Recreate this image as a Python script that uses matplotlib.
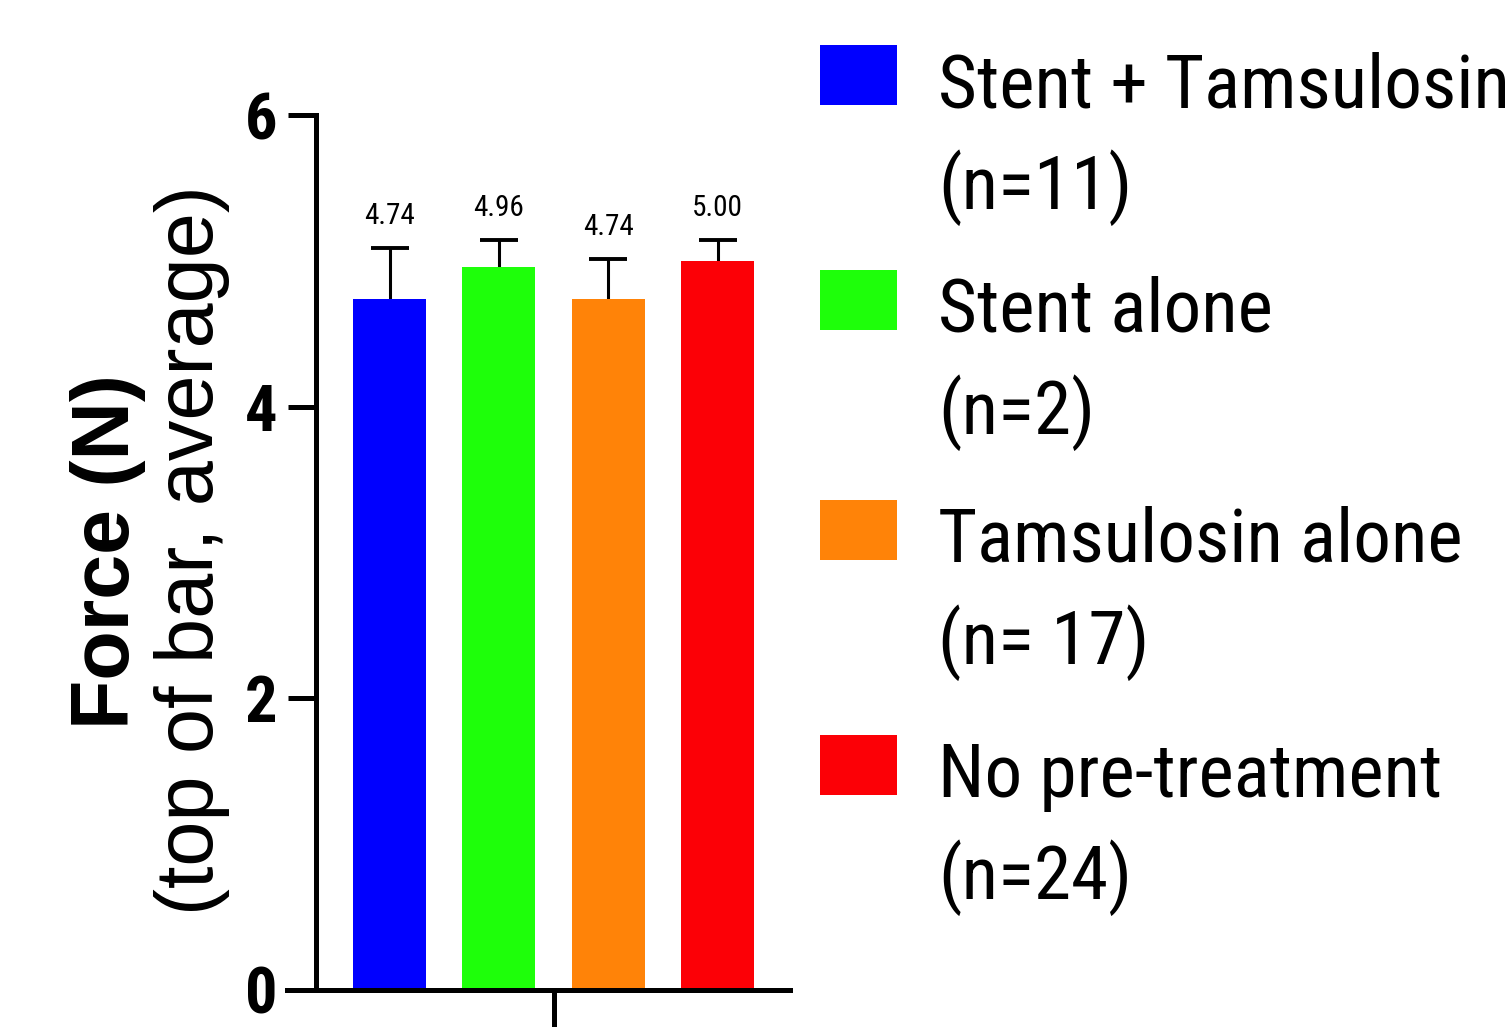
import matplotlib
matplotlib.use("Agg")
import matplotlib.pyplot as plt
from matplotlib import font_manager as fm
from matplotlib.font_manager import FontProperties
from matplotlib.patches import Rectangle

groups = ["Stent + Tamsulosin\n(n=11)", "Stent alone\n(n=2)", "Tamsulosin alone\n(n= 17)", "No pre-treatment\n(n=24)"]
means = [4.74, 4.96, 4.74, 5.00]
errors = [0.35, 0.18, 0.27, 0.14]
value_labels = ["4.74", "4.96", "4.74", "5.00"]
colors = ["#0000FF", "#1EFF0A", "#FF8308", "#FC0006"]
yticks = [0, 2, 4, 6]

available = set(f.name for f in fm.fontManager.ttflist)
narrow_candidates = ["Nimbus Sans Narrow", "Liberation Sans Narrow", "Arial Narrow",
                     "Roboto Condensed", "Archivo Narrow", "PT Sans Narrow",
                     "Open Sans Condensed", "Sofia Sans Condensed", "Liberation Sans"]
NARROW_NAME = next((n for n in narrow_candidates if n in available), "DejaVu Sans")
NARROW = [NARROW_NAME, "DejaVu Sans"]
REG = ["Liberation Sans", "DejaVu Sans"]

W, H = 1512, 1027
fig = plt.figure(figsize=(W / 100, H / 100), dpi=100)
renderer = fig.canvas.get_renderer()


def fitted_size(s, family, weight, target_px, lo, hi, use_height=False):
    prop = FontProperties(family=family, weight=weight, size=50)
    w, h, d = renderer.get_text_width_height_descent(s, prop, ismath=False)
    cur = (h - d) if use_height else w
    if cur <= 0:
        return (lo + hi) / 2
    return max(lo, min(hi, 50 * target_px / cur))


val_fs = fitted_size("4.74", NARROW, "normal", 51, 14, 26)
tick_fs = fitted_size("6", NARROW, "bold", 46, 34, 52, use_height=True)
leg_fs = fitted_size("Stent + Tamsulosin", NARROW, "normal", 572, 40, 62)
y1_fs = fitted_size("Force (N)", REG, "bold", 355, 45, 65)
y2_fs = fitted_size("(top of bar, average)", REG, "normal", 730, 45, 65)

ax = fig.add_axes([287 / W, 1 - 990 / H, (790 - 287) / W, (990 - 115) / H])

x = list(range(len(means)))
ax.errorbar(x, means, yerr=errors, fmt="none", ecolor="black",
            elinewidth=2.2, capsize=14, capthick=2.8, zorder=1)
ax.bar(x, means, width=0.67, color=colors, zorder=2)
for xi, m, e, lab in zip(x, means, errors, value_labels):
    ax.annotate(lab, (xi, m + e), xytext=(0, 13), textcoords="offset points",
                ha="center", va="bottom", fontsize=val_fs, family=NARROW)

ax.set_xlim(-0.938, 3.663)
ax.set_ylim(0, 6)
for s in ["top", "right"]:
    ax.spines[s].set_visible(False)
ax.spines["left"].set_position(("data", -0.673))
ax.spines["left"].set_linewidth(3.6)
ax.spines["bottom"].set_linewidth(3.6)
ax.spines["left"].set_bounds(0, 6)

ax.set_yticks(yticks)
ax.set_yticklabels([str(t) for t in yticks], fontsize=tick_fs, fontweight="bold", family=NARROW)
ax.tick_params(axis="y", length=20, width=3.6, pad=8)
ax.set_xticks([1.5])
ax.set_xticklabels([""])
ax.tick_params(axis="x", length=28, width=3.6)

# y label (two lines)
fig.text(108 / W, 1 - 552 / H, "Force (N)", rotation=90, ha="center", va="center",
         fontsize=y1_fs, fontweight="bold", family=REG)
fig.text(192 / W, 1 - 550 / H, "(top of bar, average)", rotation=90, ha="center", va="center",
         fontsize=y2_fs, family=REG)

# legend
entry_tops = [45, 270, 500, 735]
for top, lab, c in zip(entry_tops, groups, colors):
    fig.patches.append(Rectangle((820 / W, 1 - (top + 60) / H), 77 / W, 60 / H,
                                 transform=fig.transFigure, facecolor=c, edgecolor="none"))
    l1, l2 = lab.split("\n")
    fig.text(938 / W, 1 - (top + 62) / H, l1, ha="left", va="baseline", fontsize=leg_fs, family=NARROW)
    fig.text(938 / W, 1 - (top + 164) / H, l2, ha="left", va="baseline", fontsize=leg_fs, family=NARROW)

fig.savefig("out.png", dpi=100)
